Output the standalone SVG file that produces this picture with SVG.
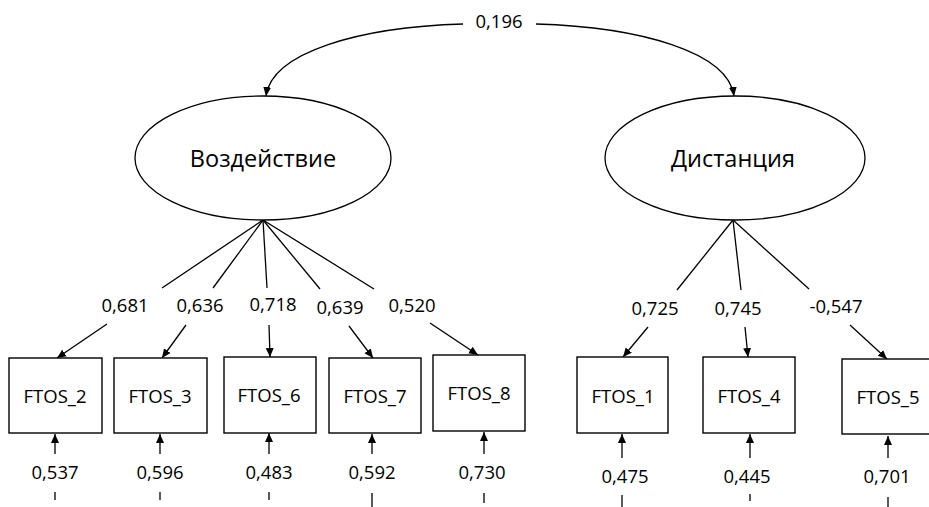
<svg xmlns="http://www.w3.org/2000/svg" width="929" height="507" viewBox="0 0 929 507">
<defs>
<marker id="ah" markerUnits="userSpaceOnUse" markerWidth="10" markerHeight="10" viewBox="0 0 10 10" refX="9" refY="5" orient="auto">
<path d="M0,1 L9,5 L0,9 Z" fill="#000"/>
</marker>
</defs>
<style>
text{font-family:"Open Sans","Noto Sans","Liberation Sans",sans-serif;fill:#000;text-anchor:middle}
.lbl{font-size:18.5px}
.box{fill:#fff;stroke:#000;stroke-width:1.4}
.ell{fill:#fff;stroke:#000;stroke-width:1.3}
.bt{font-size:18.5px}
.lt{font-size:23.5px}
.c{fill:none;stroke:#000;stroke-width:1.3}
.a{fill:none;stroke:#000;stroke-width:1.3;marker-end:url(#ah)}
</style>
<rect width="929" height="507" fill="#fff"/>
<g id="connectors">
<path class="a" d="M463,24 C360,27 272,52 266,96"/>
<path class="a" d="M536,24 C640,27 728,52 734,96"/>
<line class="c" x1="263" y1="220" x2="162" y2="288"/>
<line class="c" x1="263" y1="220" x2="213" y2="288"/>
<line class="c" x1="263" y1="220" x2="267" y2="288"/>
<line class="c" x1="263" y1="220" x2="320" y2="289"/>
<line class="c" x1="263" y1="220" x2="374" y2="289"/>
<line class="a" x1="107" y1="324" x2="57" y2="358"/>
<line class="a" x1="186" y1="325" x2="162" y2="358"/>
<line class="a" x1="269" y1="325" x2="270" y2="357"/>
<line class="a" x1="349" y1="326" x2="373" y2="358"/>
<line class="a" x1="430" y1="323" x2="478" y2="355"/>
<line class="c" x1="733" y1="220" x2="677" y2="290"/>
<line class="c" x1="733" y1="220" x2="741" y2="290"/>
<line class="c" x1="733" y1="220" x2="809" y2="289"/>
<line class="a" x1="648" y1="327" x2="623" y2="357"/>
<line class="a" x1="745" y1="327" x2="748" y2="357"/>
<line class="a" x1="850" y1="325" x2="887" y2="359"/>
<line class="a" x1="55" y1="454" x2="55" y2="434"/>
<line class="a" x1="160" y1="454" x2="160" y2="434"/>
<line class="a" x1="269" y1="454" x2="269" y2="433"/>
<line class="a" x1="372" y1="454" x2="372" y2="434"/>
<line class="a" x1="484" y1="454" x2="484" y2="432"/>
<line class="a" x1="622" y1="458" x2="622" y2="434"/>
<line class="a" x1="750" y1="458" x2="750" y2="434"/>
<line class="a" x1="888" y1="458" x2="888" y2="436"/>
<line class="c" x1="55" y1="492" x2="55" y2="500"/>
<line class="c" x1="160" y1="492" x2="160" y2="500"/>
<line class="c" x1="269" y1="492" x2="269" y2="500"/>
<line class="c" x1="372" y1="493" x2="372" y2="507"/>
<line class="c" x1="484" y1="493" x2="484" y2="503"/>
<line class="c" x1="622" y1="495" x2="622" y2="507"/>
<line class="c" x1="750" y1="494" x2="750" y2="501"/>
<line class="c" x1="888" y1="497" x2="888" y2="507"/>
</g>
<g id="labels">
<text class="lbl" x="499" y="28">0,196</text>
<text class="lbl" x="125" y="312">0,681</text>
<text class="lbl" x="200" y="312">0,636</text>
<text class="lbl" x="273" y="311">0,718</text>
<text class="lbl" x="340" y="314">0,639</text>
<text class="lbl" x="412" y="312">0,520</text>
<text class="lbl" x="655" y="315">0,725</text>
<text class="lbl" x="738" y="315">0,745</text>
<text class="lbl" x="836" y="313">-0,547</text>
<text class="lbl" x="55" y="479">0,537</text>
<text class="lbl" x="160" y="479">0,596</text>
<text class="lbl" x="269" y="479">0,483</text>
<text class="lbl" x="372" y="479">0,592</text>
<text class="lbl" x="482" y="479">0,730</text>
<text class="lbl" x="625" y="483">0,475</text>
<text class="lbl" x="747" y="483">0,445</text>
<text class="lbl" x="887" y="483">0,701</text>
</g>
<g id="Vozdeystvie"><ellipse class="ell" cx="263" cy="158" rx="128" ry="62"/><text class="lt" x="263" y="167">Воздействие</text></g>
<g id="Distantsiya"><ellipse class="ell" cx="735" cy="158" rx="130" ry="62"/><text class="lt" x="733" y="167">Дистанция</text></g>
<g id="FTOS_2"><rect class="box" x="9" y="358" width="93" height="75"/><text class="bt" x="55" y="403">FTOS_2</text></g>
<g id="FTOS_3"><rect class="box" x="114" y="358" width="93" height="75"/><text class="bt" x="160" y="403">FTOS_3</text></g>
<g id="FTOS_6"><rect class="box" x="224" y="357" width="92" height="76"/><text class="bt" x="269" y="402">FTOS_6</text></g>
<g id="FTOS_7"><rect class="box" x="329" y="358" width="92" height="75"/><text class="bt" x="375" y="403">FTOS_7</text></g>
<g id="FTOS_8"><rect class="box" x="433" y="355" width="92" height="76"/><text class="bt" x="479" y="400">FTOS_8</text></g>
<g id="FTOS_1"><rect class="box" x="577" y="357" width="91" height="76"/><text class="bt" x="623" y="403">FTOS_1</text></g>
<g id="FTOS_4"><rect class="box" x="703" y="357" width="92" height="76"/><text class="bt" x="749" y="403">FTOS_4</text></g>
<g id="FTOS_5"><rect class="box" x="842" y="359" width="93" height="75"/><text class="bt" x="888" y="404">FTOS_5</text></g>
</svg>
